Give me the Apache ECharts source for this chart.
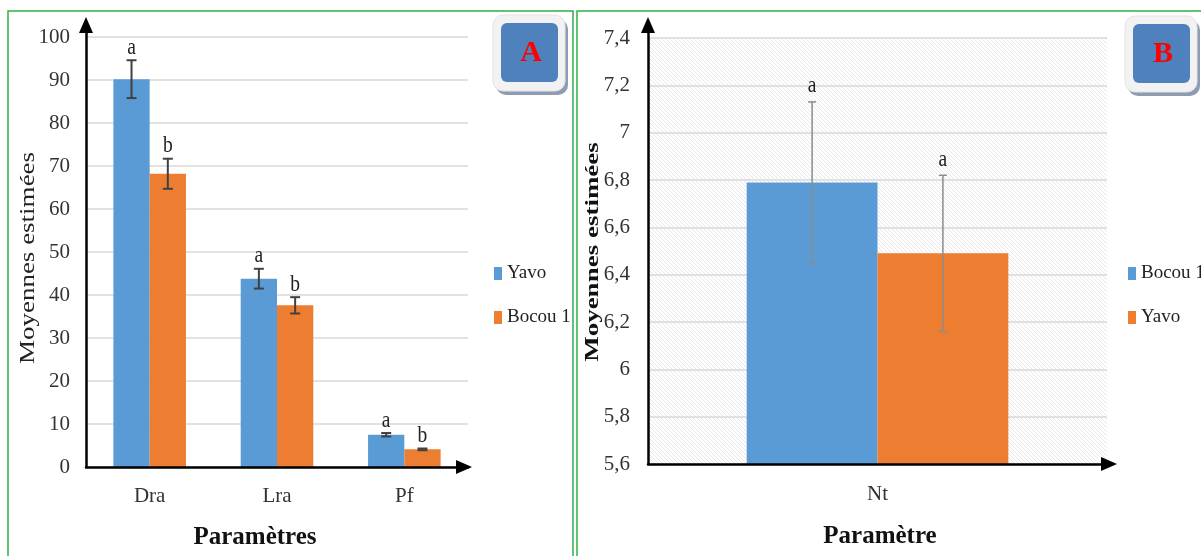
<!DOCTYPE html>
<html>
<head>
<meta charset="utf-8">
<script src="https://cdn.jsdelivr.net/npm/echarts@6/dist/echarts.min.js"></script>
<style>
  html, body { margin: 0; padding: 0; background: #fff; }
  #chartA { position: absolute; left: 0; top: 0; width: 575px; height: 556px; }
  #chartB { position: absolute; left: 575px; top: 0; width: 626px; height: 556px; }
</style>
</head>
<body>
<div id="chartA"></div>
<div id="chartB"></div>
<script>
// ---- panel A ----
const categoriesA = ["Dra", "Lra", "Pf"];
const yavoA = [90.2, 43.8, 7.5];
const yavoErrA = [4.4, 2.3, 0.4];
const yavoLettersA = ["a", "a", "a"];
const bocouA = [68.2, 37.6, 4.1];
const bocouErrA = [3.5, 1.9, 0.2];
const bocouLettersA = ["b", "b", "b"];

// ---- panel B ----
const categoriesB = ["Nt"];
const bocouB = [6.79];
const bocouErrB = [0.34];
const bocouLettersB = ["a"];
const yavoB = [6.49];
const yavoErrB = [0.33];
const yavoLettersB = ["a"];

const serif = '"Liberation Serif", "Times New Roman", serif';
const BLUE = "#5b9bd5";
const ORANGE = "#ed7d31";
const GREEN = "#2fb04a";

// error bar + letter, drawn through the axes
function errorBars(values, errs, letters, side, color, width, cap, gap) {
  return {
    type: "custom",
    z: 5,
    silent: true,
    data: values.map((v, i) => [i, v - errs[i], v + errs[i]]),
    encode: { x: 0, y: [1, 2] },
    renderItem: function (params, api) {
      const band = api.size([1, 0])[0];
      const dx = side * band * 0.1425; // barCategoryGap 43%, barGap 0
      const lo = api.coord([api.value(0), api.value(1)]);
      const hi = api.coord([api.value(0), api.value(2)]);
      const x = lo[0] + dx;
      const ls = { stroke: color, lineWidth: width };
      return {
        type: "group",
        children: [
          { type: "line", shape: { x1: x, y1: lo[1], x2: x, y2: hi[1] }, style: ls },
          { type: "line", shape: { x1: x - cap, y1: lo[1], x2: x + cap, y2: lo[1] }, style: ls },
          { type: "line", shape: { x1: x - cap, y1: hi[1], x2: x + cap, y2: hi[1] }, style: ls },
          {
            type: "text",
            x: x,
            y: hi[1] - gap,
            scaleX: 0.85,
            style: {
              text: letters[params.dataIndex],
              align: "center",
              verticalAlign: "bottom",
              font: "23px " + serif,
              fill: "#222",
            },
          },
        ],
      };
    },
  };
}

function badge(x, y, letter) {
  return {
    type: "group",
    silent: true,
    children: [
      { type: "rect", shape: { x: x + 3, y: y + 4, width: 72, height: 76, r: 10 }, style: { fill: "#8e9cb2" } },
      { type: "rect", shape: { x: x, y: y, width: 72, height: 76, r: 10 }, style: { fill: "#f2f2f2", stroke: "#e4e4e4", lineWidth: 1 } },
      { type: "rect", shape: { x: x + 8, y: y + 8, width: 57, height: 59, r: 6 }, style: { fill: "#4f81bd" } },
      {
        type: "text",
        x: x + 38,
        y: y + 38,
        style: { text: letter, font: "bold 30px " + serif, fill: "#ff0000", align: "center", verticalAlign: "middle" },
      },
    ],
  };
}

function axisLine() {
  return {
    show: true,
    lineStyle: { color: "#000", width: 2.5 },
    symbol: ["none", "triangle"],
    symbolSize: [14, 16],
  };
}

function legend(left, names) {
  return {
    orient: "vertical",
    left: left,
    top: 264,
    padding: 0,
    data: names,
    icon: "rect",
    itemWidth: 8,
    itemHeight: 13,
    itemGap: 25,
    selectedMode: false,
    textStyle: { fontFamily: serif, fontSize: 19, color: "#222" },
  };
}

// ---- chart A ----
const chartA = echarts.init(document.getElementById("chartA"));
chartA.setOption({
  animation: false,
  textStyle: { fontFamily: serif },
  grid: { left: 86, right: 107, top: 25, bottom: 89 },
  legend: legend(494, ["Yavo", "Bocou 1"]),
  xAxis: {
    type: "category",
    data: categoriesA,
    z: 10,
    axisLine: Object.assign(axisLine(), { symbolOffset: [0, -4] }),
    axisTick: { show: false },
    axisLabel: { fontFamily: serif, fontSize: 21, color: "#333", margin: 19 },
  },
  yAxis: {
    type: "value",
    min: 0,
    max: 102.8,
    interval: 10,
    axisLine: axisLine(),
    axisTick: { show: false },
    splitLine: { showMaxLine: false, lineStyle: { color: "#d9d9d9", width: 1.5 } },
    axisLabel: {
      showMaxLabel: false,
      fontFamily: serif,
      fontSize: 21,
      color: "#333",
      margin: 16,
      formatter: (v) => (v % 10 === 0 ? String(v) : ""),
    },
  },
  series: [
    { name: "Yavo", type: "bar", data: yavoA, color: BLUE, barGap: "0%", barCategoryGap: "43%" },
    { name: "Bocou 1", type: "bar", data: bocouA, color: ORANGE, barGap: "0%", barCategoryGap: "43%" },
    errorBars(yavoA, yavoErrA, yavoLettersA, -1, "#404040", 2, 5, 1),
    errorBars(bocouA, bocouErrA, bocouLettersA, 1, "#404040", 2, 5, 1),
  ],
  graphic: [
    { type: "rect", silent: true, shape: { x: 8, y: 11, width: 565, height: 600 }, style: { fill: "none", stroke: GREEN, lineWidth: 1.5 } },
    badge(493, 15, "A"),
    {
      type: "text",
      x: 28,
      y: 258,
      rotation: Math.PI / 2,
      scaleY: 0.78,
      style: { text: "Moyennes estimées", font: "27px " + serif, fill: "#222", align: "center", verticalAlign: "middle" },
    },
    {
      type: "text",
      x: 255,
      y: 538,
      style: { text: "Paramètres", font: "bold 25px " + serif, fill: "#111", align: "center", verticalAlign: "middle" },
    },
  ],
});

// ---- chart B ----
const hatch = document.createElement("canvas");
hatch.width = 4;
hatch.height = 4;
(function () {
  const ctx = hatch.getContext("2d");
  ctx.strokeStyle = "rgba(0,0,0,0.09)";
  ctx.lineWidth = 1;
  [-4, 0, 4].forEach((o) => {
    ctx.beginPath();
    ctx.moveTo(o, 0);
    ctx.lineTo(o + 4, 4);
    ctx.stroke();
  });
})();

const chartB = echarts.init(document.getElementById("chartB"));
chartB.setOption({
  animation: false,
  textStyle: { fontFamily: serif },
  grid: { left: 73, right: 94, top: 25, bottom: 92 },
  legend: legend(553, ["Bocou 1", "Yavo"]),
  xAxis: {
    type: "category",
    data: categoriesB,
    z: 10,
    axisLine: Object.assign(axisLine(), { symbolOffset: [0, 2] }),
    axisTick: { show: false },
    axisLabel: { fontFamily: serif, fontSize: 21, color: "#333", margin: 20 },
  },
  yAxis: {
    type: "value",
    min: 5.6,
    max: 7.455,
    interval: 0.2,
    z: 2,
    axisLine: axisLine(),
    axisTick: { show: false },
    splitLine: { showMaxLine: false, lineStyle: { color: "#d9d9d9", width: 1.5 } },
    axisLabel: {
      showMaxLabel: false,
      fontFamily: serif,
      fontSize: 21,
      color: "#333",
      margin: 18,
      formatter: (v) => {
        const k = v / 0.2;
        if (Math.abs(k - Math.round(k)) > 1e-6) return "";
        return String(Math.round(v * 10) / 10).replace(".", ",");
      },
    },
  },
  series: [
    {
      type: "line",
      data: [],
      z: 1,
      silent: true,
      markArea: {
        silent: true,
        itemStyle: { color: { image: hatch, repeat: "repeat" }, opacity: 1 },
        data: [[{ yAxis: 5.6 }, { yAxis: 7.4 }]],
      },
    },
    { name: "Bocou 1", type: "bar", data: bocouB, color: BLUE, barGap: "0%", barCategoryGap: "43%", z: 3 },
    { name: "Yavo", type: "bar", data: yavoB, color: ORANGE, barGap: "0%", barCategoryGap: "43%", z: 3 },
    errorBars(bocouB, bocouErrB, bocouLettersB, -1, "#8c8c8c", 1.5, 4, 4),
    errorBars(yavoB, yavoErrB, yavoLettersB, 1, "#8c8c8c", 1.5, 4, 4),
  ],
  graphic: [
    { type: "rect", silent: true, shape: { x: 2, y: 11, width: 700, height: 600 }, style: { fill: "none", stroke: GREEN, lineWidth: 1.5 } },
    badge(550, 16, "B"),
    {
      type: "text",
      x: 18,
      y: 252,
      rotation: Math.PI / 2,
      scaleY: 0.72,
      style: { text: "Moyennes estimées", font: "bold 27px " + serif, fill: "#111", align: "center", verticalAlign: "middle" },
    },
    {
      type: "text",
      x: 305,
      y: 537,
      style: { text: "Paramètre", font: "bold 25px " + serif, fill: "#111", align: "center", verticalAlign: "middle" },
    },
  ],
});
</script>
</body>
</html>
